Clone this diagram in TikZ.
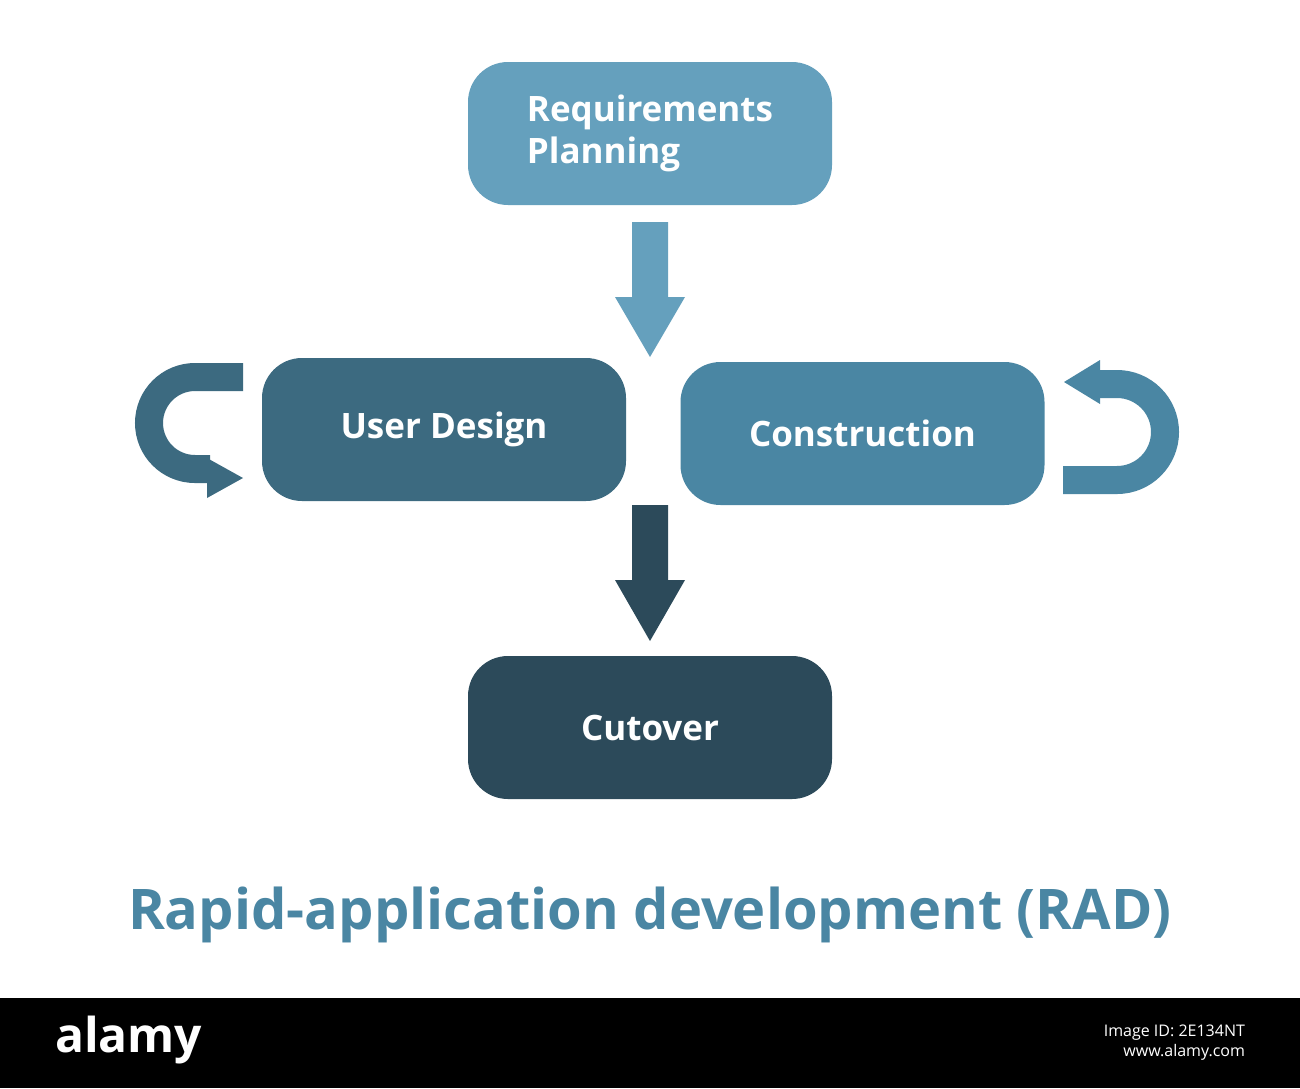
\documentclass[tikz,border=0pt]{standalone}
\usepackage{fontspec}
\setmainfont{Open Sans}
\definecolor{cA}{HTML}{65A0BD}
\definecolor{cB}{HTML}{3C6A80}
\definecolor{cC}{HTML}{4A86A3}
\definecolor{cD}{HTML}{2C4A5A}
\begin{document}
\begin{tikzpicture}[x=0.5pt,y=-0.5pt,
  box/.style={rounded corners=20pt,minimum width=182pt,minimum height=71.5pt,text=white,font=\fontsize{17.5}{21}\selectfont\bfseries,inner sep=0pt}]
\useasboundingbox (0,0) rectangle (1300,1088);
\fill[white] (0,0) rectangle (1300,998);
\node[box,fill=cA,align=left] (req) at (650,133.5) {Requirements\\Planning};
\node[box,fill=cB] (ud) at (444,429.5) {User Design};
\node[box,fill=cC] (co) at (862.5,433.5) {Construction};
\node[box,fill=cD] (cu) at (650,727.5) {Cutover};
% down arrows
\fill[cA] (632,222) -- (668,222) -- (668,297) -- (685,297) -- (650,357) -- (615,297) -- (632,297) -- cycle;
\fill[cD] (632,505) -- (668,505) -- (668,580) -- (685,580) -- (650,641) -- (615,580) -- (632,580) -- cycle;
% left loop
\draw[cB,line width=14pt] (243,377) -- (195,377) arc[start angle=90,end angle=270,radius=23pt] -- (210,469);
\fill[cB] (207,458) -- (243,478) -- (207,498) -- cycle;
% right loop
\draw[cC,line width=14pt] (1063,480) -- (1117,480) arc[start angle=-90,end angle=90,radius=24pt] -- (1098,384);
\fill[cC] (1100,360) -- (1064,382) -- (1100,404) -- cycle;
\node[text=cC,font=\fontsize{28}{34}\selectfont\bfseries] (title) at (650,915) {Rapid-application development (RAD)};
\fill[black] (0,998) rectangle (1300,1088);
\node[text=white,font=\fontsize{24}{30}\selectfont\bfseries,anchor=west] (al) at (48,1040) {alamy};
\node[text=white,font=\fontsize{8}{10}\selectfont,anchor=east,align=right] (id) at (1252,1043) {Image ID: 2E134NT\\www.alamy.com};
\end{tikzpicture}
\end{document}
